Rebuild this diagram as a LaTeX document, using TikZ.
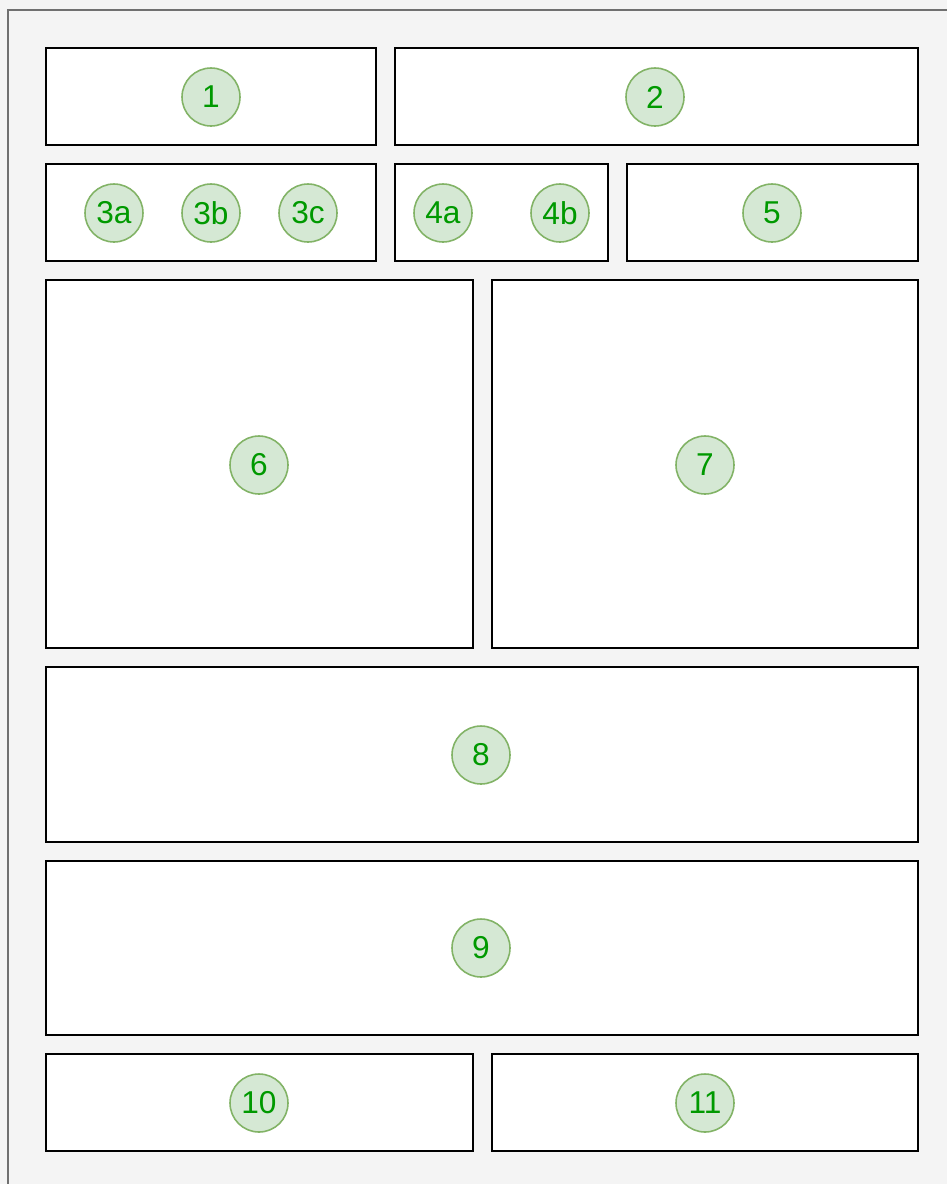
\documentclass[tikz,border=0pt]{standalone}
\usepackage{fontspec}
\setmainfont{Liberation Sans}
\usepackage{tikz}
\usepackage{xcolor}

\definecolor{pagegray}{HTML}{F4F4F4}
\definecolor{framegray}{HTML}{707070}
\definecolor{badgefill}{HTML}{D5E8D4}
\definecolor{badgeline}{HTML}{82B366}
\definecolor{badgetext}{HTML}{009900}

\begin{document}
\begin{tikzpicture}[
    x=0.02cm, y=-0.02cm,
    panel/.style={rectangle, draw=black, fill=white, line width=1.1pt, inner sep=0pt},
    badge/.style={circle, draw=badgeline, fill=badgefill, line width=0.9pt, inner sep=0pt,
                 minimum size=1.16cm, text=badgetext, font=\fontsize{18}{21}\selectfont},
]

% page and frame
\useasboundingbox (0,0) rectangle (947,1184);
\fill[pagegray] (0,0) rectangle (947,1184);
\coordinate (fb) at (8,1184);
\coordinate (fc) at (8,10);
\coordinate (fr) at (947,10);
\draw[framegray, line width=1.1pt] (fb) -- (fc) -- (fr);

% row 1
\node[panel, minimum width=6.6cm,   minimum height=1.94cm] (box1) at (211,96.5)  {};
\node[panel, minimum width=10.46cm, minimum height=1.94cm] (box2) at (656.5,96.5) {};

% row 2
\node[panel, minimum width=6.6cm,  minimum height=1.94cm] (box3) at (211,212.5)   {};
\node[panel, minimum width=4.26cm, minimum height=1.94cm] (box4) at (501.5,212.5) {};
\node[panel, minimum width=5.82cm, minimum height=1.94cm] (box5) at (772.5,212.5) {};

% row 3
\node[panel, minimum width=8.54cm, minimum height=7.36cm] (box6) at (259.5,464) {};
\node[panel, minimum width=8.52cm, minimum height=7.36cm] (box7) at (705,464)   {};

% rows 4 and 5
\node[panel, minimum width=17.44cm, minimum height=3.5cm]  (box8) at (482,754.5) {};
\node[panel, minimum width=17.44cm, minimum height=3.48cm] (box9) at (482,948)   {};

% row 6
\node[panel, minimum width=8.54cm, minimum height=1.94cm] (box10) at (259.5,1102.5) {};
\node[panel, minimum width=8.52cm, minimum height=1.94cm] (box11) at (705,1102.5)   {};

% Badges
\node[badge] (b1)  at (211,97)   {1};
\node[badge] (b2)  at (655,97)   {2};
\node[badge] (b3a) at (114,213)  {3a};
\node[badge] (b3b) at (211,213)  {3b};
\node[badge] (b3c) at (308,213)  {3c};
\node[badge] (b4a) at (443,213)  {4a};
\node[badge] (b4b) at (560,213)  {4b};
\node[badge] (b5)  at (772,213)  {5};
\node[badge] (b6)  at (259,465)  {6};
\node[badge] (b7)  at (705,465)  {7};
\node[badge] (b8)  at (481,755)  {8};
\node[badge] (b9)  at (481,948)  {9};
\node[badge] (b10) at (259,1103) {10};
\node[badge] (b11) at (705,1103) {11};

\end{tikzpicture}
\end{document}
